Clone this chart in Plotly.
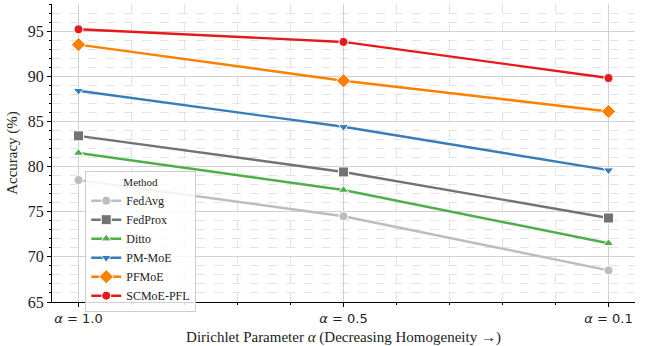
import plotly.graph_objects as go

categories = ["α = 1.0", "α = 0.5", "α = 0.1"]
methods = ["FedAvg", "FedProx", "Ditto", "PM-MoE", "PFMoE", "SCMoE-PFL"]
fedavg = [78.5, 74.5, 68.5]
fedprox = [83.4, 79.4, 74.3]
ditto = [81.5, 77.4, 71.5]
pm_moe = [88.4, 84.4, 79.6]
pfmoe = [93.5, 89.5, 86.1]
scmoe_pfl = [95.2, 93.8, 89.8]
series = [fedavg, fedprox, ditto, pm_moe, pfmoe, scmoe_pfl]
colors = ["#bdbdbd", "#737373", "#4daf4a", "#377eb8", "#ff7f00", "#e41a1c"]
symbols = ["circle", "square", "triangle-up", "triangle-down", "diamond", "circle"]
sizes = [9, 10, 9, 9, 11, 9]
yticks = [65, 70, 75, 80, 85, 90, 95]

xpos = list(range(len(categories)))
fig = go.Figure()
for name, vals, c, s, sz in zip(methods, series, colors, symbols, sizes):
    fig.add_trace(go.Scatter(
        x=xpos, y=vals, name=name, mode="lines+markers",
        line=dict(color=c, width=2.4),
        marker=dict(symbol=s, size=sz, color=c, line=dict(color="white", width=1)),
    ))

serif = "Liberation Serif"
fig.update_layout(
    width=646, height=346,
    margin=dict(l=52, r=11, t=4, b=42),
    paper_bgcolor="white", plot_bgcolor="white",
    font=dict(family=serif, size=14, color="#222"),
    showlegend=True,
    legend=dict(
        x=0.057, y=0.44, xanchor="left", yanchor="top",
        bgcolor="rgba(255,255,255,0.82)", bordercolor="#cccccc", borderwidth=1,
        font=dict(family=serif, size=12, color="#222"),
        title=dict(text="Method", font=dict(family=serif, size=11), side="top center"),
        itemwidth=30, tracegroupgap=0,
    ),
    xaxis=dict(
        range=[-0.1, 2.1], tickmode="array", tickvals=xpos,
        ticktext=[c.replace("α", "<i>α</i>") for c in categories],
        tickfont=dict(family="DejaVu Sans", size=13, color="#222"),
        showline=True, linecolor="black", linewidth=1.2, mirror=False,
        ticks="outside", ticklen=4, tickcolor="black",
        showgrid=True, gridcolor="#d0d0d0", gridwidth=1,
        zeroline=False,
        minor=dict(dtick=0.2, tick0=0, showgrid=True, gridcolor="#e3e3e3",
                   griddash="dash", gridwidth=0.8, ticks="outside", ticklen=2,
                   tickcolor="black"),
        title=dict(text="Dirichlet Parameter <i>α</i> (Decreasing Homogeneity →)",
                   font=dict(family=serif, size=15, color="#222"), standoff=6),
    ),
    yaxis=dict(
        range=[65, 98], tickmode="array", tickvals=yticks,
        tickfont=dict(family=serif, size=16, color="#222"),
        showline=True, linecolor="black", linewidth=1.2, mirror=False,
        ticks="outside", ticklen=4, tickcolor="black",
        showgrid=True, gridcolor="#d0d0d0", gridwidth=1,
        zeroline=False,
        minor=dict(dtick=1, tick0=65, showgrid=True, gridcolor="#e3e3e3",
                   griddash="dash", gridwidth=0.8, ticks="outside", ticklen=2,
                   tickcolor="black"),
        title=dict(text="Accuracy (%)", font=dict(family=serif, size=15, color="#222"),
                   standoff=6),
    ),
)
fig.write_html("out.html")
